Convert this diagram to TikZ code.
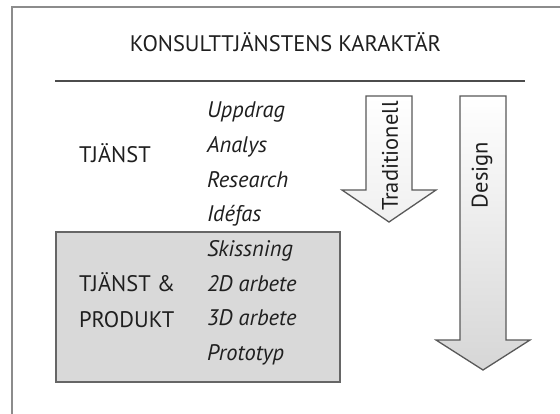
\documentclass[tikz,border=0pt]{standalone}
\usepackage{fontspec}
\setmainfont{PT Sans}
\begin{document}
\begin{tikzpicture}[x=1pt, y=-1pt,
  every node/.style={inner sep=0pt, outer sep=0pt, text=black!88},
  txt/.style={font=\fontsize{22.5}{27}\selectfont},
  item/.style={txt, font=\fontsize{22.5}{27}\selectfont\itshape, anchor=base west},
  side/.style={txt, anchor=base west},
  arrowbody/.style={draw=black!65, line width=1.3pt, line join=miter},
  panel/.style={draw=black!60, line width=1.4pt, fill=black!15}
]
\useasboundingbox (0,0) rectangle (560,414);
\fill[white] (0,0) rectangle (560,414);

% outer frame (runs off the right and bottom edges)
\draw[black!45, line width=2pt] (12,414) -- (12,7) -- (560,7);

% heading and rule
\node[txt, anchor=base] (title) at (285.5,52) {KONSULTTJÄNSTENS KARAKTÄR};
\coordinate (ruleL) at (55,81);
\coordinate (ruleR) at (525,81);
\draw[black!70, line width=1.5pt] (ruleL) -- (ruleR);

% grey panel for service & product phases
\node[panel, minimum width=284pt, minimum height=150pt] (prodbox) at (198,307) {};

% left-hand category labels
\node[side] (tjanst) at (79,163) {TJÄNST};
\node[side] (tjanst2) at (79,292) {TJÄNST \&};
\node[side] (produkt) at (79,327) {PRODUKT};

% phase list
\node[item] (p1) at (207,118.0) {Uppdrag};
\node[item] (p2) at (207,152.6) {Analys};
\node[item] (p3) at (207,187.2) {Research};
\node[item] (p4) at (207,221.8) {Idéfas};
\node[item] (p5) at (207,256.4) {Skissning};
\node[item] (p6) at (207,291.0) {2D arbete};
\node[item] (p7) at (207,325.6) {3D arbete};
\node[item] (p8) at (207,360.2) {Prototyp};

% block arrows
\draw[arrowbody, top color=white, bottom color=black!6]
  (366,96) -- (412,96) -- (412,190) -- (436,190) -- (389,222)
  -- (342,190) -- (366,190) -- cycle;
\draw[arrowbody, top color=white, bottom color=black!16]
  (460,96) -- (506,96) -- (506,340) -- (530,340) -- (483,370)
  -- (436,340) -- (460,340) -- cycle;

\node[txt, rotate=90] (trad) at (390,156) {Traditionell};
\node[txt, rotate=90] (design) at (482,175) {Design};
\end{tikzpicture}
\end{document}
